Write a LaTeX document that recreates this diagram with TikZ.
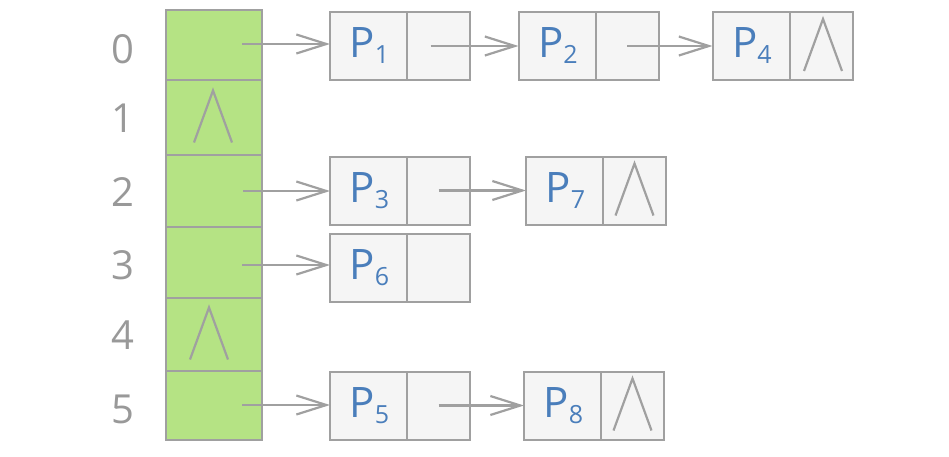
\documentclass[tikz,border=0pt]{standalone}
\usepackage{fontspec}
\setmainfont{Open Sans}
\usetikzlibrary{arrows.meta}
\definecolor{edgegray}{HTML}{A0A0A0}
\definecolor{cellgreen}{HTML}{B5E384}
\definecolor{cellfill}{HTML}{F5F5F5}
\definecolor{pblue}{HTML}{4A7EBB}
\definecolor{idxgray}{HTML}{999999}
\newcommand\psub[1]{\kern2pt P\kern-0.5pt\raisebox{-6pt}{\fontsize{25pt}{25pt}\selectfont #1}}
\begin{document}
\begin{tikzpicture}[x=1pt,y=-1pt,
  slot/.style={draw=edgegray, fill=cellgreen, line width=2pt, minimum width=96pt, inner sep=0pt, outer sep=0pt},
  datacell/.style={draw=edgegray, fill=cellfill, line width=2pt, minimum width=77pt, minimum height=68pt, inner sep=0pt, outer sep=0pt, text=pblue, font=\fontsize{42pt}{42pt}\selectfont},
  nextcell/.style={draw=edgegray, fill=cellfill, line width=2pt, minimum width=63pt, minimum height=68pt, inner sep=0pt, outer sep=0pt, anchor=west},
  idx/.style={text=idxgray, font=\fontsize{40pt}{40pt}\selectfont, inner sep=0pt},
  ptr/.style={draw=edgegray, line width=2.2pt, -{Straight Barb[length=30pt,width=19pt]}},
  lam/.style={draw=edgegray, line width=2.2pt}
]
\useasboundingbox (0,0) rectangle (949,456);
% slot column
\node[slot, minimum height=70pt] (s0) at (214,45) {};
\node[slot, minimum height=75pt] (s1) at (214,117.5) {};
\node[slot, minimum height=72pt] (s2) at (214,191) {};
\node[slot, minimum height=71pt] (s3) at (214,262.5) {};
\node[slot, minimum height=73pt] (s4) at (214,334.5) {};
\node[slot, minimum height=69pt] (s5) at (214,405.5) {};
% index labels
\node[idx] (l0) at (123,49) {0};
\node[idx] (l1) at (123,118) {1};
\node[idx] (l2) at (123,192) {2};
\node[idx] (l3) at (123,265) {3};
\node[idx] (l4) at (123,335) {4};
\node[idx] (l5) at (123,409) {5};
% list nodes
\node[datacell] (p1) at (368.5,46) {\psub{1}};
\node[nextcell] (p1n) at (p1.east) {};
\node[datacell] (p2) at (557,46) {\psub{2}};
\node[nextcell] (p2n) at (p2.east) {};
\node[datacell] (p4) at (751,46) {\psub{4}};
\node[nextcell] (p4n) at (p4.east) {};
\node[datacell] (p3) at (368.5,190.5) {\psub{3}};
\node[nextcell] (p3n) at (p3.east) {};
\node[datacell] (p7) at (564.5,190.5) {\psub{7}};
\node[nextcell] (p7n) at (p7.east) {};
\node[datacell] (p6) at (368.5,268) {\psub{6}};
\node[nextcell] (p6n) at (p6.east) {};
\node[datacell] (p5) at (368.5,405.5) {\psub{5}};
\node[nextcell] (p5n) at (p5.east) {};
\node[datacell] (p8) at (562.5,405.5) {\psub{8}};
\node[nextcell] (p8n) at (p8.east) {};
% pointer starts
\coordinate (s0p) at (242,44);
\coordinate (s2p) at (243,191);
\coordinate (s3p) at (242,265);
\coordinate (s5p) at (242,405);
\coordinate (p1p) at ([xshift=-8pt]p1n.center);
\coordinate (p2p) at (p2n.center);
\coordinate (p3p) at (p3n.center);
\coordinate (p5p) at (p5n.center);
% pointers
\draw[ptr] (s0p) -- (s0p -| p1.west);
\draw[ptr] (p1p) -- (p1p -| p2.west);
\draw[ptr] (p2p) -- (p2p -| p4.west);
\draw[ptr] (s2p) -- (s2p -| p3.west);
\draw[ptr] (p3p) -- (p3p -| p7.west);
\draw[ptr] (s3p) -- (s3p -| p6.west);
\draw[ptr] (s5p) -- (s5p -| p5.west);
\draw[ptr] (p5p) -- (p5p -| p8.west);
% null marks
\foreach \c/\dx in {s1/-1, s4/-5, p4n/2, p7n/0, p8n/0}{
  \draw[lam] ([shift={(\dx-19,25)}]\c.center) -- ([shift={(\dx,-27)}]\c.center) -- ([shift={(\dx+19,25)}]\c.center);
}
\end{tikzpicture}
\end{document}
